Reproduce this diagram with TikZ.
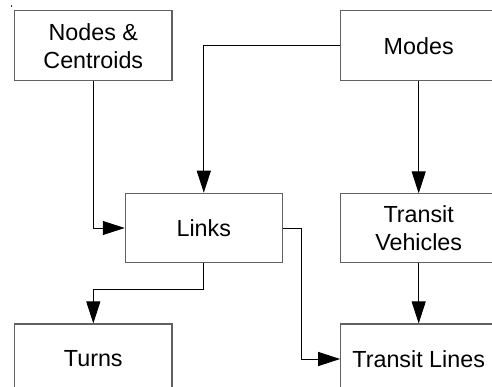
\documentclass[tikz,border=0pt]{standalone}
\usepackage{fontspec}
\setmainfont{Liberation Sans}
\usetikzlibrary{arrows.meta}
\begin{document}
\begin{tikzpicture}[x=1pt,y=-1pt,
  entity/.style={draw=black!62, line width=1.1pt, fill=white, rectangle,
    inner sep=0pt, align=center, font=\fontsize{23.3}{28}\selectfont},
  conn/.style={draw=black, line width=0.9pt,
    -{Triangle[length=22pt,width=14pt]}}]
  \clip (0,0) rectangle (492,387);
  \fill[white] (0,0) rectangle (492,387);
  % stray mark in the corner
  \fill[black!80] (10.5,5.5) rectangle (12,7);

  % entities
  \node[entity, minimum width=157.3pt, minimum height=70pt] (nc) at (93.3,45.7) {Nodes \&\\Centroids};
  \node[entity, minimum width=156pt, minimum height=70pt] (modes) at (418.7,45.7) {Modes};
  \node[entity, minimum width=157pt, minimum height=69.4pt] (links) at (203.8,228) {Links};
  \node[entity, minimum width=156pt, minimum height=68.7pt] (tv) at (418.7,228.3) {Transit\\Vehicles};
  \node[entity, minimum width=157.3pt, minimum height=70pt] (turns) at (93.3,359) {Turns};
  \node[entity, minimum width=156pt, minimum height=70pt] (tl) at (418.7,359) {Transit Lines};

  % routing points
  \coordinate (turnbend) at (0,289.3);
  \coordinate (linebend) at (301.7,0);

  % relations
  \draw[conn] (modes.west) -| (links.north);
  \draw[conn] (nc.south) |- (links.west);
  \draw[conn] (modes.south) -- (tv.north);
  \draw[conn] (tv.south) -- (tl.north);
  \draw[conn] (links.south) -- (links.south |- turnbend) -| (turns.north);
  \draw[conn] (links.east) -- (linebend |- links.east) |- (tl.west);
\end{tikzpicture}
\end{document}
